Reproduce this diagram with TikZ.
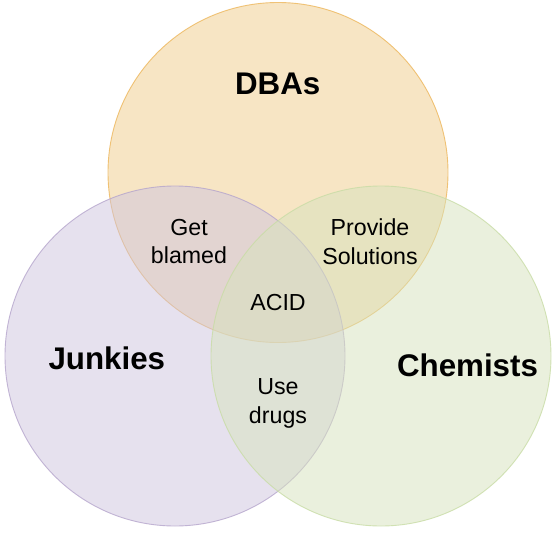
\documentclass[tikz,border=0pt]{standalone}
\usepackage{fontspec}
\setmainfont{Liberation Sans}
\definecolor{dbafill}{HTML}{F1CD8B}
\definecolor{dbaline}{HTML}{EDB65A}
\definecolor{junfill}{HTML}{CFC4DF}
\definecolor{junline}{HTML}{B5A5CC}
\definecolor{chefill}{HTML}{D7E3BD}
\definecolor{cheline}{HTML}{C8DCA5}
\tikzset{
  setcircle/.style={line width=0.9pt, fill opacity=0.5, draw opacity=0.8},
  biglabel/.style={font=\fontsize{31.3}{37}\selectfont\bfseries, inner sep=0pt, anchor=base},
  smalllabel/.style={font=\fontsize{23.2}{28.4}\selectfont, inner sep=0pt, align=center}
}
\begin{document}
\begin{tikzpicture}[x=1pt,y=-1pt]
\useasboundingbox (0,0) rectangle (555,541);
\fill[white] (0,0) rectangle (555,541);
\path[setcircle, fill=dbafill, draw=dbaline] (278,172.5) circle[radius=170pt];
\path[setcircle, fill=junfill, draw=junline] (175,356) circle[radius=170pt];
\path[setcircle, fill=chefill, draw=cheline] (381,356) circle[radius=170pt];
\node[biglabel] (dba) at (277.7,94.3) {DBAs};
\node[biglabel] (jun) at (106.8,369) {Junkies};
\node[biglabel] (che) at (467.5,376.7) {Chemists};
\node[smalllabel] (blame) at (189,241.6) {Get\\blamed};
\node[smalllabel] (sol) at (370,241.6) {Provide\\Solutions};
\node[smalllabel, anchor=base] (acid) at (278,310.7) {ACID};
\node[smalllabel] (drugs) at (278,403.3) {Use\\drugs};
\end{tikzpicture}
\end{document}
